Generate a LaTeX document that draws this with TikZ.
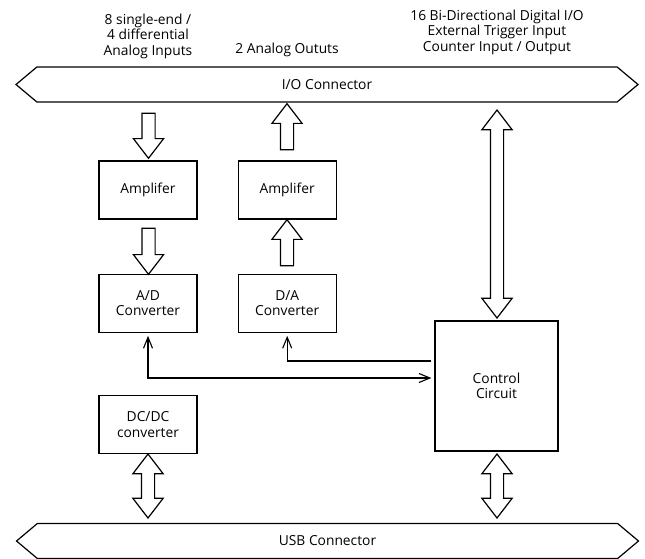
\documentclass[tikz,border=0pt]{standalone}
\usepackage{fontspec}
\setmainfont{Open Sans}
\usetikzlibrary{arrows.meta,shapes.arrows,positioning,calc}
\tikzstyle{block}=[draw,line width=1.2pt,minimum width=98pt,minimum height=58pt,align=center,inner sep=2pt]
\tikzstyle{bus}=[double arrow,draw,line width=1.2pt,double arrow head extend=0pt,double arrow tip angle=80,minimum width=35pt,minimum height=622pt,inner sep=0pt]
\tikzstyle{onearrow}=[single arrow,draw,line width=1.2pt,minimum width=29pt,single arrow head extend=8.5pt,single arrow tip angle=75,inner xsep=0pt,inner ysep=6pt]
\tikzstyle{twoarrow}=[double arrow,draw,line width=1.2pt,minimum width=29pt,double arrow head extend=8.5pt,double arrow tip angle=75,inner xsep=0pt,inner ysep=6pt]
\tikzstyle{link}=[draw,line width=1.1pt,shorten >=3pt,shorten <=3pt]
\tikzstyle{toptext}=[align=center,inner sep=0pt]

\begin{document}
\begin{tikzpicture}[x=1pt,y=-1pt,font=\fontsize{13.8}{15.5}\selectfont,>={Straight Barb[length=11pt,width=9pt]}]

    \useasboundingbox (0,0) rectangle (645,558);

    % the two connectors
    \node[bus] (io) at (327,84.5) {I/O Connector};
    \node[bus] (usb) at (327.5,541) {USB Connector};

    % blocks
    \node[block] (amp1) at (148,190) {Amplifer};
    \node[block, below=54pt of amp1] (adc) {A/D\\Converter};
    \node[block, right=40pt of adc] (dac) {D/A\\Converter};
    \node[block, above=54pt of dac] (amp2) {Amplifer};
    \node[block, below=62pt of adc] (dcdc) {DC/DC\\converter};
    \node[block, minimum width=123pt, minimum height=130pt] (ctrl) at (496.5,386) {Control\\Circuit};

    % block arrows
    \foreach \pos/ \name / \len / \rot in {(148.5,131.5)/ad1/45/-90, (148.5,247)/ad2/46/-90,
                                           (287,131)/da1/46/90, (287,247)/da2/46/90}
        \node[onearrow, minimum height=\len pt, rotate=\rot] (\name) at \pos {};
    \foreach \pos/ \name / \len in {(497,214)/dio/208, (148,486)/pwr/64, (497,486)/usbio/64}
        \node[twoarrow, minimum height=\len pt, rotate=90] (\name) at \pos {};

    % control lines
    \draw[link, <->] (adc.south) |- ($(ctrl.west)+(0,-8)$);
    \draw[link, ->] ($(ctrl.west)+(0,-25)$) -| (dac.south);

    % texts above
    \node[toptext] (ain) at (148,36) {8 single-end /\\4 differential\\Analog Inputs};
    \node[toptext] (aout) at (287,50) {2 Analog Oututs};
    \node[toptext] (dtxt) at (497,32) {16 Bi-Directional Digital I/O\\External Trigger Input\\Counter Input / Output};

\end{tikzpicture}
\end{document}
